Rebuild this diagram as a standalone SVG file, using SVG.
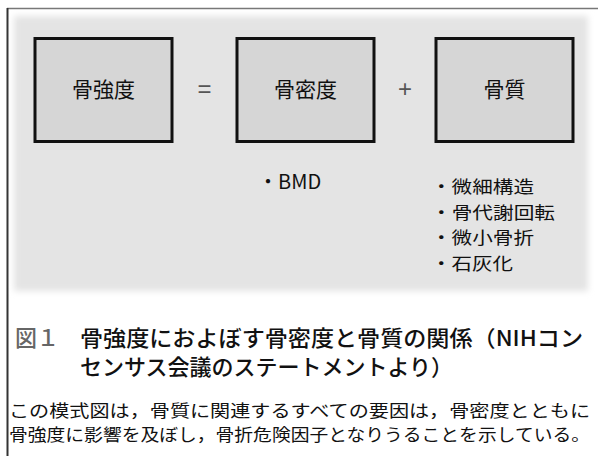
<svg xmlns="http://www.w3.org/2000/svg" width="598" height="456" viewBox="0 0 598 456">
  <defs>
    <filter id="soft" x="-5%" y="-5%" width="110%" height="110%">
      <feGaussianBlur stdDeviation="3"/>
    </filter>
  </defs>
  <style>
    .jp { font-family: "Noto Sans CJK JP", "Noto Sans", sans-serif; fill: #111; }
    .box { fill: #d6d6d6; stroke: #111; stroke-width: 3; }
    .lbl { font-size: 21px; text-anchor: middle; }
    .op { font-family: "Liberation Sans", "Noto Sans", sans-serif; font-size: 24px; fill: #555; text-anchor: middle; }
    .item { font-size: 20px; }
    .li { font-size: 17.5px; }
    .cap { font-size: 22px; font-weight: 500; }
    .body { font-size: 16.5px; }
  </style>
  <rect width="598" height="456" fill="#ffffff"/>
  <!-- frame -->
  <line x1="7" y1="8.5" x2="598" y2="8.5" stroke="#777" stroke-width="1.5"/>
  <line x1="7.5" y1="8" x2="7.5" y2="456" stroke="#333" stroke-width="2"/>
  <!-- panel -->
  <rect x="14" y="16" width="574" height="275" fill="#e4e4e4" filter="url(#soft)"/>

  <g id="node-strength">
    <rect class="box" x="35" y="38.5" width="137" height="103"/>
    <text class="jp lbl" x="103.5" y="97">骨強度</text>
  </g>
  <g id="op-equals">
    <text class="op" x="204.5" y="97">=</text>
  </g>
  <g id="node-density">
    <rect class="box" x="237" y="38.5" width="137" height="103"/>
    <text class="jp lbl" x="305.5" y="97">骨密度</text>
  </g>
  <g id="op-plus">
    <text class="op" x="405" y="97">+</text>
  </g>
  <g id="node-quality">
    <rect class="box" x="436" y="38.5" width="137" height="103"/>
    <text class="jp lbl" x="504.5" y="97">骨質</text>
  </g>
  <g id="connectors"></g>

  <g id="list-density">
    <text class="jp item" x="258" y="189">・BMD</text>
  </g>
  <g id="list-quality">
    <text class="jp li" x="431" y="193" textLength="103" lengthAdjust="spacingAndGlyphs">・微細構造</text>
    <text class="jp li" x="431" y="218.5" textLength="124" lengthAdjust="spacingAndGlyphs">・骨代謝回転</text>
    <text class="jp li" x="431" y="244" textLength="103" lengthAdjust="spacingAndGlyphs">・微小骨折</text>
    <text class="jp li" x="431" y="269.5" textLength="82" lengthAdjust="spacingAndGlyphs">・石灰化</text>
  </g>

  <g id="caption">
    <text class="jp cap" x="15" y="346" style="fill:#666">図１</text>
    <text class="jp cap" x="80" y="346" textLength="503" lengthAdjust="spacingAndGlyphs">骨強度におよぼす骨密度と骨質の関係（NIHコン</text>
    <text class="jp cap" x="80" y="375">センサス会議のステートメントより）</text>
  </g>
  <g id="body">
    <text class="jp body" x="9" y="417" textLength="581" lengthAdjust="spacingAndGlyphs">この模式図は，骨質に関連するすべての要因は，骨密度とともに</text>
    <text class="jp body" x="9" y="441" textLength="581" lengthAdjust="spacingAndGlyphs">骨強度に影響を及ぼし，骨折危険因子となりうることを示している。</text>
  </g>
</svg>
